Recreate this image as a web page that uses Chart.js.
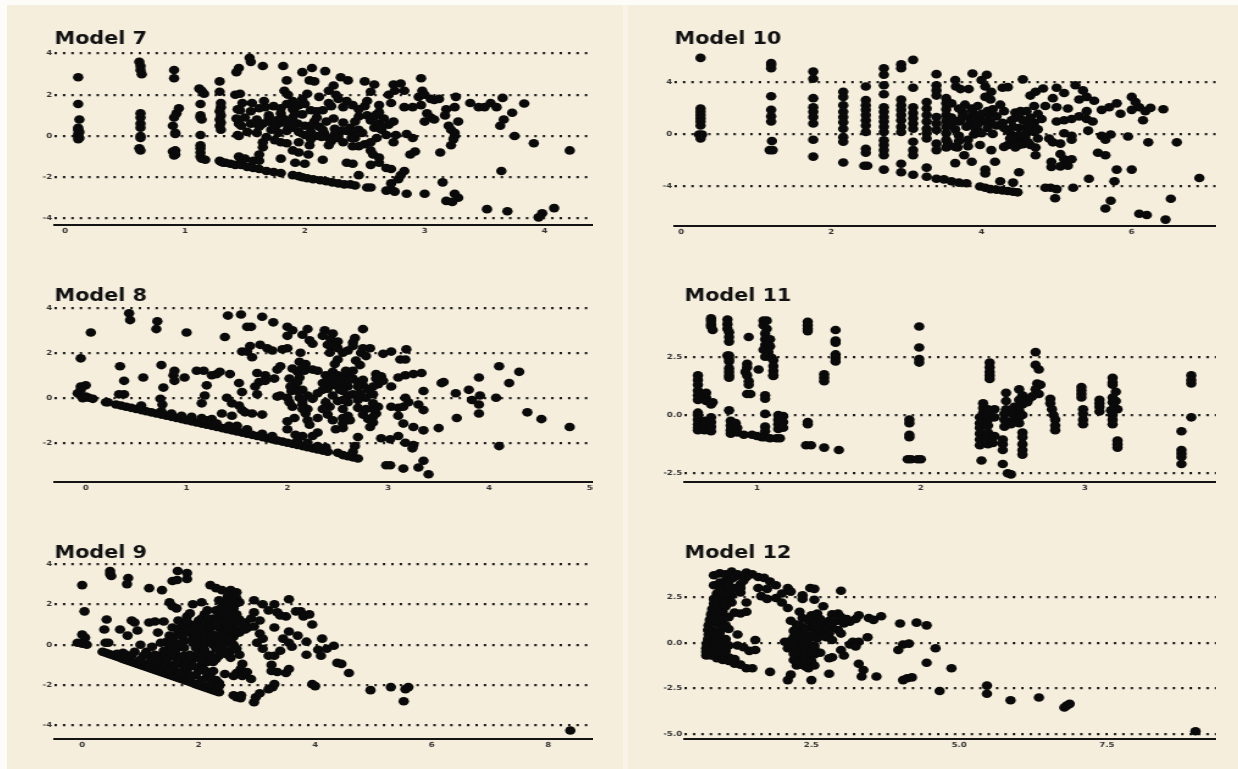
<!DOCTYPE html>
<html>
<head>
<meta charset="utf-8">
<title>Models 7-12</title>
<script src="https://cdn.jsdelivr.net/npm/chart.js@4"></script>
<style>
    html, body { margin: 0; width: 1238px; height: 769px; overflow: hidden; background: #fdfcf8; }
    .sheet { position: absolute; background: #f5eedd; }
    .gutter { position: absolute; left: 623px; top: 5px; width: 5px; height: 764px; background: #f8f3e6; }
    canvas { position: absolute; transform: scaleX(1.22); transform-origin: 0 0; filter: blur(0.45px); }
</style>
</head>
<body>
<div class="sheet" style="left:7px;top:5px;width:1231px;height:764px"></div>
<div class="gutter"></div>
<canvas id="chart7"></canvas>
<canvas id="chart8"></canvas>
<canvas id="chart9"></canvas>
<canvas id="chart10"></canvas>
<canvas id="chart11"></canvas>
<canvas id="chart12"></canvas>
<script>
// Points, [fitted, residual]
const model7 = [
[0.11,2.85],[0.11,1.55],[0.12,0.8],[0.11,0.4],[0.11,0.3],[0.12,0.2],[0.11,0.1],[0.11,0],[0.12,-0.1],[0.11,-0.15],
[0.62,3.6],[0.63,3.4],[0.63,3.2],[0.64,3.0],[0.63,1.1],[0.63,0.9],[0.63,0.6],[0.63,0.4],[0.63,0],[0.63,-0.1],[0.62,-0.6],[0.63,-0.7],
[0.91,3.2],[0.91,2.8],[0.95,1.35],[0.93,1.1],[0.91,0.9],[0.9,0.5],[0.92,0.15],[0.92,0.1],[0.9,-0.75],[0.92,-0.9],[0.91,-0.95],[0.92,-0.7],
[1.12,2.3],[1.14,2.2],[1.16,2.05],[1.13,1.55],[1.13,1.0],[1.13,0.9],[1.14,0.8],[1.13,0.05],[1.13,-0.45],[1.13,-0.6],[1.13,-0.8],[1.13,-1.0],[1.14,-1.1],[1.17,-1.15],
[1.29,2.65],[1.29,2.15],[1.3,1.6],[1.3,1.4],[1.29,1.2],[1.3,1.0],[1.29,0.8],[1.3,0.65],[1.29,0.5],[1.3,0.3],[1.29,-1.2],[1.32,-1.3],
[1.42,2.0],[1.46,2.05],[1.44,1.3],[1.46,1.25],[1.43,0.85],[1.45,0.6],[1.47,0.5],[1.44,0.05],[1.45,0],[1.45,-1.0],[1.47,-1.25],
[1.54,3.8],[1.55,3.6],[1.45,3.3],[1.43,3.1],[1.65,3.4],[1.82,3.4],[1.85,2.7],[1.98,3.1],[2.06,3.3],[2.17,3.15],[2.04,2.7],[2.08,2.65],[2.3,2.85],[2.36,2.7],[2.5,2.65],[2.58,2.5],[2.74,2.5],[2.8,2.55],[2.97,2.8],[2.24,2.45],[2.2,2.2],[2.26,2.0],[2.28,1.8],[2.35,1.7],[2.4,1.5],
[1.83,2.2],[1.86,2.0],[1.9,1.7],[1.95,1.5],[1.9,1.3],[1.98,1.8],[2.02,2.05],[2.12,1.9],[2.05,1.25],[2.1,1.2],[2.15,1.25],
[2.55,2.15],[2.52,1.7],[2.62,1.5],[2.7,2.0],[2.75,2.2],[2.83,2.2],[2.72,1.6],
[1.56,1.6],[1.66,1.7],[1.67,1.4],[1.74,1.45],[1.8,1.1],[1.7,1.0],[1.6,0.8],[1.55,0.6],[1.52,0.2],[1.6,0.15],[1.65,0.6],[1.72,0.3],[1.78,0.6],[1.82,0.85],[1.86,0.5],[1.9,0.9],[1.94,0.6],[1.98,1.05],[2.0,0.5],[2.05,0.2],[2.0,0.05],[2.08,0.7],[2.12,0.45],[2.16,0.15],[2.18,0.7],[2.2,-0.1],[2.24,0.85],[2.25,0.35],[2.28,0.1],[2.22,-0.25],[2.32,0.65],[2.3,0.25],
[2.42,0.7],[2.45,0.3],[2.42,-0.1],[2.45,0.95],[2.52,1.0],[2.55,0.75],[2.6,1.05],[2.62,0.6],[2.64,0.3],[2.7,0.55],[2.74,0.7],[2.68,0.05],[2.48,0.15],[2.58,0.4],
[1.75,0.5],[1.85,0.25],[1.7,0.7],[1.95,0.2],[2.1,0.0],[2.14,-0.05],[1.62,0.45],[1.78,0.15],[1.88,0.75],[2.38,0.4],
[1.7,0.85],[1.75,0.75],[1.8,0.9],[1.85,0.65],[1.9,0.4],[1.75,0.4],[1.6,0.6],[1.92,1.1],[2.05,0.5],[2.15,0.3],[2.25,0.1],[2.35,0.25],[2.1,0.9],[2.4,0.05],[1.92,1.4],[1.85,1.55],[1.8,1.35],[1.62,1.35],[1.55,1.2],[1.48,1.6],[1.5,0.9],[2.22,1.45],[2.58,0.95],[2.66,0.85],[2.62,0.4],[2.6,-0.1],[2.5,-0.4],[2.45,-0.5],
[1.75,-0.2],[1.95,-0.3],[2.05,-0.15],[2.28,-0.1],[2.32,-0.3],[2.0,1.55],[2.2,1.6],[2.32,1.4],[2.5,1.45],[2.45,1.3],[2.62,1.15],
[2.83,1.4],[2.9,1.4],[2.97,1.5],[2.95,1.9],[2.98,2.2],[3.0,2.0],[3.05,1.8],[3.08,1.75],[3.12,1.8],[3.02,1.1],[3.05,0.9],[3.0,0.7],[3.08,0.8],[3.18,1.3],[3.17,1.0],[3.26,1.9],[3.25,1.4],[3.28,0.7],[3.2,0.5],[3.22,0.3],[3.25,0.15],[3.25,0],[3.24,-0.15],[3.22,-0.45],[3.13,-0.8],
[3.38,1.6],[3.45,1.4],[3.5,1.4],[3.55,1.6],[3.6,1.4],[3.65,1.85],[3.66,0.8],[3.63,0.5],[3.75,0],[3.73,1.13],[3.83,1.58],[3.91,-0.35],[4.21,-0.7],[3.64,-1.7],[3.15,-2.25],[3.25,-2.8],[3.28,-3],[3.18,-3.15],[3.23,-3.2],[3.52,-3.55],[3.69,-3.65],[4.08,-3.5],[3.98,-3.75],[3.95,-3.95],[3.0,-2.8],[2.85,-2.8],
[1.3,-1.25],[1.34,-1.3],[1.38,-1.35],[1.42,-1.4],[1.47,-1.4],[1.52,-1.5],[1.57,-1.55],[1.62,-1.6],[1.68,-1.7],[1.74,-1.75],[1.8,-1.8],[1.9,-1.9],[1.95,-1.95],[1.98,-2.0],[2.02,-2.05],[2.07,-2.1],[2.13,-2.15],[2.18,-2.2],[2.23,-2.25],[2.28,-2.3],[2.33,-2.35],[2.38,-2.35],[2.42,-2.4],[2.52,-2.5],[2.55,-2.5],
[2.68,-2.65],[2.72,-2.6],[2.75,-2.7],[2.72,-2.3],[2.78,-2.1],[2.8,-1.9],[2.83,-1.7],[2.88,-0.9],[2.92,-0.75],[2.9,-0.1],[2.85,0.1],[2.76,0.05],[2.74,-0.3],
[1.5,-1.1],[1.57,-1.2],[1.62,-1.2],[1.62,-0.9],[1.65,-0.55],[1.65,-0.3],[1.68,-0.05],[1.8,-0.3],[1.85,-0.35],[1.9,-0.7],[1.95,-0.8],[2.03,-0.9],[2.04,-0.45],[1.8,-1.1],[1.92,-1.3],[2.0,-1.35],[2.15,-1.15],[2.35,-1.3],[2.4,-1.35],[2.45,-1.9],[2.55,-1.4],[2.62,-1.3],[2.68,-1.55],[2.72,-1.6],[2.55,-0.7],[2.57,-0.9],[2.62,-1.05],[2.55,-0.3],[2.4,-0.5],[2.39,-0.1],[2.2,-0.45]
];

const model8 = [
[-0.05,0.5],[0,0.55],[-0.05,0.35],[-0.08,0.2],[-0.05,0.1],[0,0.05],[0.03,0],[0.07,-0.05],[-0.03,-0.02],[0.2,-0.2],[0.22,-0.2],
[0.3,-0.3],[0.35,-0.35],[0.4,-0.4],[0.45,-0.45],[0.5,-0.5],[0.55,-0.55],[0.6,-0.6],[0.65,-0.65],[0.7,-0.7],[0.75,-0.75],[0.8,-0.8],[0.85,-0.85],[0.9,-0.9],[0.95,-0.95],[1,-1],[1.05,-1.05],[1.1,-1.1],[1.15,-1.15],[1.2,-1.2],[1.25,-1.25],[1.3,-1.3],[1.35,-1.35],[1.4,-1.4],[1.45,-1.45],[1.5,-1.5],[1.55,-1.55],[1.6,-1.6],[1.65,-1.65],[1.7,-1.7],[1.75,-1.75],[1.8,-1.8],[1.85,-1.85],[1.9,-1.9],[1.95,-1.95],[2,-2],[2.05,-2.05],[2.1,-2.1],[2.15,-2.15],[2.2,-2.2],[2.25,-2.25],[2.3,-2.3],[2.35,-2.35],[2.4,-2.4],[2.5,-2.45],[2.55,-2.55],[2.6,-2.6],[2.65,-2.65],[2.7,-2.7],
[1.25,-0.95],[1.15,-0.9],[1.05,-0.85],[0.95,-0.8],[1.2,-1.0],[1.3,-1.15],[1.42,-1.25],[1.5,-1.25],[1.6,-1.4],[1.75,-1.6],[1.85,-1.7],[2.1,-1.9],[2.2,-2.0],[2.3,-2.15],[2.38,-2.2],[0.55,-0.35],[0.75,-0.6],[0.85,-0.7],
[0.43,3.75],[0.44,3.45],[0.71,3.4],[0.7,3.05],[0.05,2.9],[1.0,2.9],[1.38,2.7],[1.41,3.65],[1.54,3.7],[1.6,3.15],[1.64,3.15],[1.75,3.6],[1.86,3.35],[2.0,3.15],[2.05,3.0],[2.0,2.75],[2.15,2.8],[2.2,3.05],[2.37,3.0],[2.45,2.85],[2.35,2.75],[2.43,2.6],[2.5,2.5],[2.25,2.4],[2.22,2.55],[2.67,2.65],[2.75,3.05],[2.65,2.45],[2.65,2.3],[2.82,2.2],[2.75,2.2],[2.6,2.1],[2.55,2.0],[2.73,2.0],[2.78,1.85],[2.68,1.65],[2.72,1.45],[2.95,1.95],[3.03,2.05],[3.18,2.15],[3.12,1.7],[3.17,1.7],[2.45,2.3],[2.42,2.0],[2.5,1.7],[2.47,1.5],
[1.55,2.05],[1.63,2.3],[1.6,2.05],[1.65,1.8],[1.73,2.35],[1.8,2.2],[1.85,2.1],[1.95,2.15],[2.0,2.2],[2.13,2.0],
[-0.05,1.75],[0.34,1.4],[0.38,0.75],[0.57,0.9],[0.38,0.15],[0.33,0.15],[0.75,1.45],[0.77,0.45],[0.74,-0.05],[0.76,-0.3],[0.88,1.2],[0.87,1.0],[0.88,0.75],[0.98,0.9],[1.1,1.2],[1.17,1.2],[1.25,1.0],[1.3,1.05],[1.33,1.15],[1.43,1.05],[1.2,0.55],[1.18,0.1],[1.15,-0.25],[1.4,0],[1.45,-0.25],[1.52,-0.35],[1.55,-0.55],[1.35,-0.7],[1.45,-0.8],[1.58,-0.65],[1.65,-0.7],[1.75,-0.75],[1.52,0.65],[1.55,0.25],[1.7,1.1],[1.72,0.7],[1.68,0.5],[1.7,0.15],[1.78,1.0],[1.78,0.75],[1.87,0.85],[1.9,0.05],[1.93,0.1],[1.9,1.25],[1.93,1.4],
[2.05,1.3],[2.1,1.15],[2.12,1.6],[2.18,1.5],[2.25,1.25],[2.3,1.2],[2.02,0.85],[2.08,0.6],[2.04,0.3],[2.02,-0.2],[2.05,-0.4],[2.12,0.9],[2.15,0.35],[2.12,0],[2.15,-0.3],[2.2,-0.5],[2.2,0.1],[2.25,-0.05],[2.18,-0.7],[2.2,-1.0],[2.0,-1.05],[2.0,-1.4],[2.07,-0.9],[2.22,-1.2],[2.3,-1.55],[2.25,-1.7],[2.15,-1.7],[2.08,-1.65],
[2.38,1.0],[2.42,0.8],[2.4,0.6],[2.45,1.15],[2.5,1.0],[2.55,0.9],[2.48,0.55],[2.52,0.35],[2.55,0.65],[2.6,1.1],[2.65,1.2],[2.65,0.85],[2.6,0.5],[2.7,0.7],[2.75,0.55],[2.8,0.35],[2.72,0.2],[2.78,0],[2.85,0.15],[2.85,-0.25],[2.9,0.6],[2.88,1.05],[2.93,0.95],[2.95,0.75],[3.03,0.5],[2.9,-0.4],[2.88,-0.7],[2.78,-0.5],[2.75,-0.75],[2.6,-0.2],[2.55,-0.5],[2.6,0.1],[2.45,0.1],[2.5,-0.15],[2.42,-0.4],[2.38,-0.2],[2.4,-0.75],[2.45,-1.0],[2.55,-0.9],[2.62,-1.0],[2.48,-1.4],[2.55,-1.35],[2.7,-1.75],[2.67,-2.15],[2.65,-2.4],[2.82,-1.3],
[2.4,0.4],[2.5,0.8],[2.45,0.9],[2.35,0.65],[2.62,0.8],[2.7,0.5],[2.75,0.8],[2.58,1.2],[2.55,0.3],[2.65,0.15],[2.7,-0.1],[2.55,-0.1],[2.85,0.5],[2.88,0.85],[2.85,-0.5],[2.85,-0.85],[2.1,0.7],[2.1,0.3],[2.15,-0.15],[2.15,-0.5],[2.03,0.5],[2.0,0.0],[2.17,1.2],[2.15,1.35],[2.5,2.2],[2.4,2.35],
[2.3,0.2],[2.35,-0.5],[2.3,-0.9],[2.6,-0.8],[2.7,-0.45],[2.8,-0.95],[2.85,-1.1],[2.55,-1.15],[2.35,0.35],
[3.03,-0.4],[3.1,-0.45],[3.15,-0.4],[3.2,-0.2],[3.17,0],[3.1,-0.8],[3.15,-1.15],[3.1,0.9],[3.17,1.0],[3.25,1.05],[3.33,1.1],[3.35,0.3],[3.3,-0.3],[3.35,-0.55],[3.25,-1.3],[3.35,-1.45],[3.5,-1.35],[3.55,0.7],[3.53,0.65],[3.67,0.2],[3.8,0.35],[3.83,-0.1],[3.9,0.9],[3.91,0.1],[3.9,-0.3],[3.9,-0.7],[3.68,-0.9],[4.07,0],[4.1,1.4],[4.3,1.15],[4.2,0.65],[4.38,-0.65],[4.52,-0.95],[4.8,-1.3],[4.1,-2.15],
[2.93,-1.8],[3.02,-1.85],[3.1,-1.7],[3.17,-2.0],[3.25,-2.1],[3.24,-2.25],[2.98,-3],[3.02,-3.0],[3.15,-3.15],[3.35,-2.8],[3.3,-3.1],[3.4,-3.4]
];

const model9 = [
[0.0,2.95],[0.04,1.65],[0.48,3.65],[0.48,3.5],[0.5,3.4],[0.79,3.3],[0.77,3.0],[1.15,2.8],[1.37,2.7],[1.55,3.15],[1.63,3.2],[1.64,3.65],[1.8,3.55],[1.8,3.25],
[0,0.5],[0.05,0.35],[0.03,0.15],[-0.08,0.1],[0,0.05],[0.08,0],[0.42,1.25],[0.38,0.75],[0.4,0.1],[0.45,0.1],[0.65,0.75],[0.78,0.45],[0.85,1.2],[0.9,1.1],[0.95,0.7],[1.0,0],[1.15,1.1],[1.25,1.15],[1.3,0.6],[1.4,1.15],[1.35,0.1],
[1.5,2.1],[1.55,1.9],[1.62,1.8],[1.9,2.0],[2.05,2.1],[2.15,1.7],[2.2,2.95],[2.3,2.8],[2.4,2.7],[2.55,2.7],[2.6,2.5],[2.65,2.3],[2.5,2.4],[2.45,2.1],[2.6,2.1],[2.7,2.1],[2.95,2.2],[3.1,2.0],[3.3,2.0],[3.55,2.25],[3.2,1.7],[3.35,1.6],[3.5,1.4],[3.4,1.45],[3.67,1.65],[3.75,1.65],[3.8,1.4],[3.9,1.5],[3.95,1.0],
[1.65,1.2],[1.55,0.85],[1.5,0.45],[1.45,0.15],[1.65,0.6],[1.7,0.9],[1.8,1.4],[1.85,1.55],[1.85,1.0],[1.8,0.6],[1.75,0.2],[1.9,0.3],[1.95,0.7],[2.0,1.2],[2.0,0.9],[2.05,0.4],[2.1,1.5],[2.15,1.05],[2.15,0.65],[2.2,0.2],[2.25,1.3],[2.3,1.7],[2.35,0.85],[2.35,0.45],[2.4,1.9],[2.4,1.35],[2.45,0.9],[2.5,0.1],[2.5,0.55],[2.5,1.6],[2.55,1.15],[2.6,0.4],[2.6,0.8],[2.6,1.8],[2.7,1.25],[2.75,0.75],[2.8,1.1],[2.85,0.85],[2.9,1.3],[2.95,1.6],[2.95,0.9],
[1.55,0.3],[1.6,0.1],[1.65,-0.1],[1.7,0.45],[1.75,0.75],[1.8,1.15],[1.85,0.75],[1.9,0.1],[1.95,0.45],[1.95,1.0],[2.0,0.6],[2.0,0.05],[2.05,1.3],[2.05,0.8],[2.1,0.45],[2.1,0.05],[2.15,1.3],[2.2,0.85],[2.25,0.5],[2.25,0.0],[2.3,1.1],[2.3,0.25],[2.35,1.55],[2.35,0.1],[2.4,0.6],[2.4,1.6],[2.45,1.15],[2.45,0.35],[2.5,0.8],[2.5,1.9],[2.55,2.2],[2.55,1.4],[2.55,0.25],[2.6,1.05],[2.6,0.6],[2.6,0.0],[2.65,1.5],[2.65,2.05],[2.7,0.6],[2.75,1.0],[2.8,0.75],[2.45,2.0],[2.35,2.2],[2.55,1.9],[2.65,2.6],[2.4,1.8],
[1.5,-0.5],[1.6,-0.6],[1.7,-0.95],[1.75,-0.55],[1.8,-0.85],[1.9,-0.7],[2.0,-0.65],[2.05,-1.0],[2.1,-0.55],[2.15,-0.85],[2.3,-0.7],[2.4,-0.15],[2.55,-0.3],[2.5,-0.5],[1.2,-0.65],[1.35,-0.55],[1.05,-0.55],[0.9,-0.35],[0.7,-0.4],[1.45,-1.0],[1.35,-1.05],[1.25,-1.0],[1.15,-0.9],[1.6,-1.3],[1.8,-1.3],[2.0,-1.3],[2.15,-1.5],[2.3,-1.75],[2.35,-1.9],[2.2,-1.45],
[1.5,-0.1],[1.6,-0.3],[1.7,-0.6],[1.75,-0.15],[1.85,-0.5],[1.95,-0.15],[2.0,-0.4],[2.05,-0.8],[2.1,-0.25],[2.2,-0.5],[2.25,-0.85],[2.3,-0.2],[2.35,-0.55],[2.45,-0.3],[2.55,-0.65],[2.65,-0.2],[2.7,-0.5],[2.75,-0.95],[2.72,-1.2],[2.65,-1.4],[2.6,-1.55],[2.75,-1.55],[2.83,-1.35],[2.9,-1.7],[2.45,-1.45],
[1.1,-0.35],[1.2,-0.1],[1.25,-0.5],[1.4,-0.3],[1.3,-0.8],[1.45,-0.75],[1.6,-0.95],[1.75,-1.1],[1.9,-1.05],[2.1,-1.25],[2.25,-1.3],[1.55,-1.15],[1.95,-1.5],[2.2,-1.7],
[0.35,-0.35],[0.4,-0.4],[0.45,-0.45],[0.5,-0.5],[0.55,-0.55],[0.6,-0.6],[0.65,-0.65],[0.7,-0.7],[0.75,-0.75],[0.8,-0.8],[0.85,-0.85],[0.9,-0.9],[0.95,-0.95],[1,-1],[1.05,-1.05],[1.1,-1.1],[1.15,-1.15],[1.2,-1.2],[1.25,-1.25],[1.3,-1.3],[1.35,-1.35],[1.4,-1.4],[1.45,-1.45],[1.5,-1.5],[1.55,-1.55],[1.6,-1.6],[1.65,-1.65],[1.7,-1.7],[1.75,-1.75],[1.8,-1.8],[1.85,-1.85],[1.9,-1.9],[1.95,-1.95],[2,-2],[2.05,-2.05],[2.1,-2.1],[2.15,-2.15],[2.2,-2.2],[2.25,-2.25],[2.3,-2.3],[2.35,-2.35],
[0.6,-0.45],[0.75,-0.5],[0.85,-0.55],[1.0,-0.75],[1.2,-0.85],[1.5,-1.25],[1.7,-1.4],[1.85,-1.55],[2.05,-1.75],[2.2,-1.95],[2.35,-2.05],
[2.6,-2.5],[2.65,-2.6],[2.72,-2.65],[2.73,-2.5],[2.95,-2.85],[2.98,-2.6],[3.05,-2.4],[3.2,-2.2],[3.27,-2.1],[3.3,-1.95],
[3.05,1.2],[3.05,0.55],[3.1,0.3],[3.0,0.1],[3.1,-0.2],[3.2,-0.55],[3.3,-0.55],[3.25,-1.0],[3.35,-1.35],[3.25,-1.3],[3.5,-1.4],[3.55,-1.2],[3.4,-0.3],[3.3,0.85],[3.45,0.3],[3.55,0.1],[3.6,-0.1],[3.55,0.65],[3.7,0.45],[3.85,0.15],[3.85,-0.5],[4.05,-0.25],[4.1,-0.55],[4.12,0.3],[4.2,-0.2],[4.32,-0.05],[4.38,-0.9],[4.45,-0.95],[4.58,-1.4],
[3.95,-1.95],[4.0,-2.05],[4.95,-2.25],[5.3,-2.1],[5.55,-2.2],[5.6,-2.1],[5.52,-2.8],[8.38,-4.25]
];

const model10 = [
[0.26,5.9],[0.26,2.0],[0.26,1.75],[0.26,1.5],[0.26,1.25],[0.26,1],[0.26,0.7],[0.24,0],[0.28,0],[0.26,-0.3],
[1.2,5.5],[1.2,5.35],[1.2,5.1],[1.2,2.95],[1.2,1.9],[1.2,1.4],[1.2,1],[1.21,-0.5],[1.18,-1.2],[1.22,-1.2],
[1.76,4.85],[1.76,4.3],[1.76,2.8],[1.76,2.1],[1.76,1.75],[1.76,1.35],[1.76,0.85],[1.76,-0.4],[1.76,-1.7],
[2.16,3.3],[2.16,2.9],[2.16,2.25],[2.16,1.75],[2.16,1.35],[2.16,0.95],[2.16,0.45],[2.16,-0.2],[2.16,-0.55],[2.16,-2.15],
[2.46,3.7],[2.46,2.65],[2.46,2.25],[2.46,1.9],[2.46,1.5],[2.46,1.1],[2.46,0.7],[2.46,0.2],[2.46,-1.1],[2.46,-1.4],[2.44,-2.4],[2.48,-2.4],
[2.7,5.1],[2.7,4.6],[2.7,3.8],[2.7,3.1],[2.7,2.1],[2.7,1.75],[2.7,1.35],[2.7,1],[2.7,0.6],[2.7,0.2],[2.7,-0.45],[2.7,-0.8],[2.7,-1.2],[2.7,-1.6],[2.7,-2.7],
[2.93,5.4],[2.93,5.1],[2.93,2.7],[2.93,2.25],[2.93,1.9],[2.93,1.5],[2.93,1.1],[2.93,0.6],[2.93,0.2],[2.93,-2.25],[2.93,-2.9],
[3.09,5.75],[3.09,3.6],[3.09,2.1],[3.09,1.65],[3.09,1.25],[3.09,0.85],[3.09,0.45],[3.09,-0.55],[3.09,-1.2],[3.09,-1.6],[3.09,-3.1],
[3.27,2.5],[3.27,2],[3.27,1.5],[3.27,1],[3.27,0.45],[3.27,0.1],[3.27,-0.3],[3.27,-2.55],[3.27,-3.25],
[3.4,4.65],[3.4,3.8],[3.4,3.4],[3.4,3],[3.4,1.35],[3.4,0.85],[3.4,0.35],[3.4,-0.7],[3.4,-1.2],[3.4,-3.4],
[3.53,2.8],[3.53,2.4],[3.53,1.95],[3.53,1.5],[3.53,1.05],[3.53,0.6],[3.53,0.1],[3.53,-0.4],[3.53,-1.0],[3.5,-3.45],[3.6,-3.6],[3.7,-3.7],[3.8,-3.75],
[3.65,4.2],[3.66,3.7],[3.72,3.5],[3.83,3.5],[3.65,0.4],[3.7,-0.1],[3.68,-1.0],[3.72,1.1],[3.75,1.7],[3.78,2.3],[3.8,0.6],[3.82,-0.4],[3.85,1.3],[3.87,2.0],[3.77,-1.6],[3.65,-2.2],[3.87,-2.1],
[3.6,1.3],[3.7,1.0],[3.6,0.9],[3.75,1.4],[3.85,0.9],[3.9,1.5],[3.92,1.15],[3.95,0.3],[3.9,0.0],[4.0,1.05],[4.1,1.5],[4.12,0.95],[4.2,0.7],[4.08,1.8],[4.15,1.95],[3.88,1.75],[3.7,2.0],[3.6,2.4],[3.55,-0.9],[3.7,-0.5],[3.82,-0.9],[3.65,-0.95],[3.92,0.45],[4.3,0.5],[4.4,1.1],[4.45,1.3],[4.5,0.5],[4.6,0.1],[4.5,-0.05],[4.55,-0.5],[4.45,-0.6],[4.35,-0.8],[4.62,-0.6],[4.4,0.0],[4.7,0.9],[4.65,1.05],[4.8,1.2],[4.7,0.6],[4.75,0.4],[4.52,1.8],[4.45,1.7],[3.55,-0.6],[4.55,-0.75],
[3.88,4.7],[4.0,4.2],[4.07,4.6],[4.05,3.7],[4.13,3.3],[4.05,2.9],[4.12,2.7],[3.95,2.2],[4.0,1.6],[4.05,1.0],[3.95,0.8],[4.08,0.5],[4.0,0.1],[4.15,0.05],[3.98,-0.8],[4.13,-1.2],[4.18,-2.1],[4.05,-2.7],[4.05,-3.0],
[3.98,-4],[4.05,-4.1],[4.12,-4.2],[4.2,-4.25],[4.28,-4.3],[4.35,-4.35],[4.42,-4.4],[4.48,-4.45],[4.25,-3.6],[4.42,-3.7],[4.5,-2.9],[4.3,-0.95],[4.5,-0.8],
[4.28,3.6],[4.35,3.65],[4.25,2.3],[4.3,1.8],[4.2,1.4],[4.28,0.9],[4.35,0.3],[4.42,0.6],[4.38,-0.3],[4.45,-1.0],[4.55,4.25],[4.65,3.0],[4.72,3.3],[4.82,3.55],
[4.5,1.5],[4.55,1.1],[4.6,1.8],[4.65,1.3],[4.7,2.2],[4.75,1.6],[4.6,0.6],[4.7,0.2],[4.75,-0.3],[4.65,-0.8],[4.72,-1.0],[4.72,-1.6],[4.58,-0.2],
[4.85,2.2],[4.95,2.8],[5.0,3.6],[5.1,3.2],[5.0,2.1],[5.15,2.0],[5.0,1.0],[5.1,1.1],[5.2,1.2],[5.1,0.1],[5.2,-0.1],[4.95,-0.6],[4.9,-0.3],[5.2,-0.4],[5.05,-0.7],[5.05,-1.5],[5.1,-1.9],[4.93,-2.1],[4.93,-2.5],[5.05,-2.45],[5.15,-2.4],[5.2,-1.9],[4.92,-4.1],[5.0,-4.2],[4.98,-4.9],[5.22,-4.1],[4.85,-4.1],
[5.25,3.8],[5.35,3.4],[5.3,2.7],[5.4,2.9],[5.5,2.6],[5.4,1.8],[5.3,1.4],[5.4,1.2],[5.42,0.3],[5.48,1.0],[5.6,1.9],[5.7,2.1],[5.8,2.4],[5.6,-0.1],[5.65,-0.4],[5.72,0],[5.55,-1.4],[5.65,-1.6],[5.8,-2.7],[5.43,-3.4],[5.77,-3.6],
[5.85,1.6],[5.95,-0.15],[6.0,2.9],[6.05,2.5],[6.1,2.1],[6.0,1.9],[6.18,1.8],[6.25,2.05],[6.42,1.95],[6.15,1.1],[6.22,-0.6],[6.6,-0.6],[6.0,-2.7],[6.9,-3.35],[6.52,-4.95],[6.1,-6.1],[6.2,-6.2],[6.45,-6.55],[5.72,-5.1],[5.65,-5.7]
];

const model11 = [
[0.72,4.15],[0.72,4.05],[0.72,3.9],[0.72,3.8],[0.73,3.65],[0.82,4.1],[0.82,3.9],[0.82,3.7],[0.83,3.55],[0.83,3.35],[0.83,3.15],[0.82,2.55],[0.95,3.35],
[1.04,4.05],[1.06,4.05],[1.04,3.85],[1.06,3.7],[1.05,3.5],[1.05,3.25],[1.08,3.25],[1.05,3.0],[1.08,2.95],[1.04,2.8],[1.07,2.7],[1.05,2.5],[1.09,2.45],[1.1,2.35],[1.1,2.1],[1.1,1.9],[1.1,1.7],[1.1,1.68],
[0.83,2.55],[0.83,2.4],[0.83,2.3],[0.83,2.0],[0.83,1.85],[0.83,1.7],[0.83,1.6],[0.94,2.2],[0.94,2.05],[0.93,1.85],[0.94,1.7],[0.95,1.45],[0.95,1.3],[0.94,0.9],[0.96,0.9],[1.01,1.95],[1.05,0.85],[1.05,0.7],[1.05,0.05],
[0.64,1.7],[0.64,1.5],[0.64,1.3],[0.64,1.05],[0.64,0.85],[0.64,0.65],[0.69,0.95],[0.69,0.75],[0.69,0.6],[0.73,0.55],[0.72,0.45],[0.83,0.2],
[0.64,0.1],[0.64,0],[0.64,-0.2],[0.64,-0.4],[0.64,-0.55],[0.64,-0.65],[0.68,-0.25],[0.68,-0.45],[0.68,-0.65],[0.72,-0.1],[0.72,-0.3],[0.72,-0.5],[0.72,-0.7],
[0.84,-0.25],[0.84,-0.45],[0.84,-0.65],[0.84,-0.8],[0.87,-0.35],[0.88,-0.55],[0.88,-0.75],[0.92,-0.85],[0.97,-0.85],[1.0,-0.9],[1.03,-0.95],[1.05,-0.5],[1.05,-0.7],[1.05,-0.95],[1.08,-1.0],[1.12,-1.0],[1.14,-1.0],
[1.13,0.0],[1.13,-0.2],[1.13,-0.4],[1.13,-0.6],[1.16,-0.05],[1.16,-0.3],[1.16,-0.55],
[1.31,4.0],[1.31,3.85],[1.31,3.7],[1.31,3.6],[1.31,-0.3],[1.31,-0.4],[1.3,-1.3],[1.33,-1.3],[1.41,-1.4],[1.5,-1.5],
[1.48,3.65],[1.48,3.2],[1.48,3.1],[1.48,2.6],[1.48,2.45],[1.48,2.3],[1.41,1.75],[1.41,1.6],[1.41,1.45],
[1.99,3.8],[1.99,2.9],[1.99,2.4],[1.99,2.25],[1.93,-0.2],[1.93,-0.35],[1.93,-0.85],[1.93,-0.95],[1.92,-1.9],[1.94,-1.9],[1.98,-1.9],[2.0,-1.9],
[2.42,2.25],[2.42,2.05],[2.42,1.85],[2.42,1.7],[2.42,1.55],
[2.38,0.5],[2.38,0.3],[2.38,0.1],[2.36,-0.1],[2.36,-0.35],[2.36,-0.55],[2.36,-0.8],[2.36,-1.05],[2.36,-1.3],[2.37,-1.95],[2.41,0.25],[2.41,0.05],[2.41,-0.2],[2.41,-0.45],[2.41,-0.75],[2.41,-1.0],[2.41,-1.25],[2.45,0.25],[2.45,-0.1],[2.45,-0.9],[2.44,-1.2],
[2.52,0.95],[2.52,0.6],[2.52,0.25],[2.51,0.05],[2.51,-0.2],[2.51,-0.5],[2.5,-1.05],[2.5,-1.25],[2.5,-1.5],[2.5,-2.1],[2.55,-2.55],[2.53,-2.5],[2.57,0.35],[2.56,0.05],[2.56,-0.25],[2.55,-0.4],
[2.6,1.1],[2.62,0.85],[2.6,0.65],[2.62,0.45],[2.6,0.2],[2.62,0],[2.6,-0.1],[2.6,-0.35],[2.62,-0.75],[2.62,-0.95],[2.62,-1.25],[2.62,-1.5],[2.62,-1.7],
[2.7,2.7],[2.7,2.15],[2.72,1.95],[2.71,1.35],[2.73,1.3],[2.7,1.1],[2.72,0.9],[2.68,0.8],[2.66,0.7],[2.65,0.55],
[2.79,0.7],[2.79,0.5],[2.8,0.25],[2.81,0],[2.82,-0.2],[2.82,-0.45],[2.82,-0.65],
[2.98,1.2],[2.98,1.05],[2.98,0.9],[2.98,0.75],[2.99,0.25],[2.99,0.05],[2.99,-0.2],[2.99,-0.4],
[3.09,0.65],[3.09,0.5],[3.09,0.35],[3.09,0.15],
[3.17,1.6],[3.17,1.4],[3.17,1.3],[3.19,1],[3.17,0.75],[3.17,0.55],[3.19,0.6],[3.18,0.35],[3.2,0.25],[3.16,0.2],[3.17,0],[3.17,-0.2],[3.17,-0.4],[3.2,-1.1],[3.2,-1.25],[3.2,-1.4],
[3.65,1.7],[3.65,1.5],[3.65,1.35],[3.65,-0.1],[3.59,-0.7],[3.59,-1.5],[3.59,-1.65],[3.59,-1.8],[3.59,-2.1]
];

const model12 = [
[0.85,3.7],[0.95,3.8],[1.05,3.75],[1.15,3.9],[1.25,3.75],[1.4,3.85],[1.5,3.75],[1.6,3.6],[1.7,3.55],[1.8,3.35],[1.9,3.15],[0.85,3.15],[0.95,3.3],[1.05,3.4],[1.15,3.5],[1.3,3.2],[1.0,3.0],[1.15,2.95],[1.3,2.75],[1.15,2.6],[1.0,2.5],[0.9,2.7],[0.85,2.4],[1.05,2.3],[1.1,2.75],[1.4,2.2],[0.85,2.15],[0.95,2.05],[1.0,2.2],[0.82,1.85],[0.9,1.75],[1.0,1.7],[0.8,1.55],[0.92,1.4],[1.0,1.3],[0.78,1.25],[0.88,1.1],[0.96,1.0],[1.05,0.95],[1.1,0.75],[0.76,0.95],[0.75,0.7],[0.85,0.65],[0.76,0.45],[0.85,0.3],
[1.1,1.4],[1.2,1.65],[1.3,1.6],[1.4,1.7],[1.6,3.0],[1.65,2.55],[1.75,2.4],[1.9,2.45],[1.75,2.95],
[0.78,0.05],[0.85,-0.3],[0.95,-0.45],[1.05,-0.45],[0.75,-0.1],[0.85,0.5],[0.95,0.2],[1.0,0.85],[0.95,0.55],[1.05,0.2],[0.9,1.9],[0.9,2.3],[1.05,2.0],[1.15,2.2],[0.95,2.85],[1.1,3.15],[1.2,3.0],[1.4,3.6],[1.2,3.6],[1.35,3.4],[1.3,3.0],[1.2,-0.9],[1.1,-0.8],[0.95,-0.7],
[0.75,0.2],[0.85,0.1],[0.95,0.0],[1.05,0.0],[0.73,-0.05],[0.82,-0.15],[0.92,-0.25],[1.0,-0.2],[1.1,-0.15],[1.25,-0.15],[1.35,-0.25],[1.25,0.45],[1.55,0.15],[1.45,-0.45],[1.55,-0.4],[0.72,-0.3],[0.72,-0.5],[0.72,-0.7],[0.8,-0.45],[0.8,-0.7],[0.9,-0.55],[0.9,-0.85],[1.0,-0.6],[1.0,-0.95],[1.1,-1.0],[1.2,-1.15],[1.3,-1.2],[1.4,-1.4],[1.5,-1.4],[1.8,-1.6],
[2.0,2.7],[2.1,3.0],[2.15,2.8],[2.0,2.2],[2.1,1.9],[2.35,2.4],[2.35,2.6],[2.48,3.0],[2.55,2.95],[2.55,2.35],[2.7,2.0],[3.0,2.85],
[2.3,1.7],[2.35,1.35],[2.15,1.2],[2.25,1.0],[2.35,0.85],[2.45,1.2],[2.5,1.5],[2.6,1.6],[2.6,1.25],[2.7,1.05],[2.5,0.85],[2.3,0.6],[2.2,0.65],[2.4,0.45],[2.55,0.55],[2.65,0.7],[2.75,0.9],[2.8,1.2],[2.85,1.55],[2.95,1.6],[2.95,1.2],[3.05,1.05],[3.15,1.15],[3.25,1.3],[3.3,1.5],[2.85,0.85],[2.95,0.7],[3.0,0.5],
[2.1,-0.3],[2.2,-0.1],[2.25,0.4],[2.3,0.95],[2.3,-0.3],[2.3,-0.8],[2.35,0.45],[2.35,-0.7],[2.4,0.1],[2.4,0.75],[2.45,-0.65],[2.45,-0.9],[2.5,0.3],[2.55,0.9],[2.55,-0.3],[2.55,-0.65],[2.65,1.3],[2.7,0.4],[2.75,0.7],[2.8,0.5],[2.2,0.3],[2.35,-1.1],[2.3,-1.2],[2.25,-1.25],[2.4,-1.05],[2.85,1.1],[3.0,1.4],[3.1,1.3],
[2.05,0.05],[2.15,0.1],[2.25,0.2],[2.35,0.15],[2.45,0.2],[2.6,0.25],[2.75,0.3],[2.85,0.15],[2.15,-0.25],[2.25,-0.2],[2.35,-0.1],[2.45,-0.2],[2.55,-0.15],[2.2,-0.6],[2.3,-0.5],[2.4,-0.45],[2.5,-0.6],[2.65,-0.55],[2.2,-0.95],[2.3,-1.05],[2.4,-0.85],[2.5,-1.0],[2.4,-1.3],[2.45,-1.4],[2.55,-1.25],
[2.85,-0.8],[2.8,-0.85],[3.0,-0.4],[3.05,-0.7],[3.15,-0.1],[3.2,0.05],[3.3,0.05],[3.25,-0.2],[3.45,0.3],[3.3,-1.15],[3.38,-1.5],[3.35,-1.85],[3.6,-1.85],[2.15,-1.75],[2.1,-2.05],[2.5,-2.05],[2.8,-1.7],[3.47,1.35],[3.55,1.25],[3.68,1.45],[4.0,1.05],[4.28,1.1],[4.45,0.95],[4.05,-0.1],[4.15,-0.05],[3.97,-0.4],[4.6,-0.3],[4.45,-1.1],[4.87,-1.4],[4.05,-2.05],[4.12,-1.95],[4.2,-1.9],[4.67,-2.65],[5.47,-2.35],[5.47,-2.8],[5.87,-3.15],[6.35,-3.0],[6.78,-3.55],[6.82,-3.45],[6.87,-3.35],[9.0,-4.85]
];

// Tick values per panel
const xTicks7 = [0, 1, 2, 3, 4], yTicks7 = [-4, -2, 0, 2, 4];
const xTicks8 = [0, 1, 2, 3, 4, 5], yTicks8 = [-2, 0, 2, 4];
const xTicks9 = [0, 2, 4, 6, 8], yTicks9 = [-4, -2, 0, 2, 4];
const xTicks10 = [0, 2, 4, 6], yTicks10 = [-4, 0, 4];
const xTicks11 = [1, 2, 3], yTicks11 = [-2.5, 0, 2.5];
const xTicks12 = [2.5, 5, 7.5], yTicks12 = [-5, -2.5, 0, 2.5];

// Layout measured on the page: plot edges, axis line, and where data 0 sits with px per unit
const stretch = 1.22;
const panels = [
    { id: 'chart7',  title: 'Model 7',  pts: model7,  xt: xTicks7,  yt: yTicks7,  xDec: 0, yDec: 0, left: 54.5,  right: 593,  titleY: 39,  axisY: 225, x0: 65,    xu: 120,   y0: 136,   yu: 20.6 },
    { id: 'chart8',  title: 'Model 8',  pts: model8,  xt: xTicks8,  yt: yTicks8,  xDec: 0, yDec: 0, left: 54.5,  right: 593,  titleY: 296, axisY: 482, x0: 85.8,  xu: 100.9, y0: 397.7, yu: 22.5 },
    { id: 'chart9',  title: 'Model 9',  pts: model9,  xt: xTicks9,  yt: yTicks9,  xDec: 0, yDec: 0, left: 54.5,  right: 593,  titleY: 553, axisY: 739, x0: 82.2,  xu: 58.3,  y0: 644.7, yu: 20.2 },
    { id: 'chart10', title: 'Model 10', pts: model10, xt: xTicks10, yt: yTicks10, xDec: 0, yDec: 0, left: 674.5, right: 1216, titleY: 39,  axisY: 225.5, x0: 681, xu: 75.1,  y0: 134.3, yu: 12.95 },
    { id: 'chart11', title: 'Model 11', pts: model11, xt: xTicks11, yt: yTicks11, xDec: 0, yDec: 1, left: 684.4, right: 1216, titleY: 296, axisY: 482, x0: 593,   xu: 163.8, y0: 415,   yu: 23.3 },
    { id: 'chart12', title: 'Model 12', pts: model12, xt: xTicks12, yt: yTicks12, xDec: 1, yDec: 1, left: 684.4, right: 1216, titleY: 553, axisY: 739, x0: 663.6, xu: 59.06, y0: 642.7, yu: 18.25 }
];

const yAxisW = 34, xAxisH = 20, titleH = 22;

panels.forEach(function(p) {
    const canvas = document.getElementById(p.id);
    const top = p.titleY - 10;
    const areaTop = top + titleH;
    const plotW = (p.right - p.left) / stretch;
    canvas.width = Math.round(yAxisW + plotW);
    canvas.height = Math.round(p.axisY - areaTop + titleH + xAxisH);
    canvas.style.left = (p.left - yAxisW * stretch) + 'px';
    canvas.style.top = top + 'px';

    new Chart(canvas, {
        type: 'scatter',
        data: {
            datasets: [{
                data: p.pts.map(d => ({ x: d[0], y: d[1] })),
                backgroundColor: '#0a0a0a',
                borderWidth: 0,
                pointRadius: 4.3,
                clip: false
            }]
        },
        options: {
            responsive: false,
            animation: false,
            // autoPadding would eat the plot width to make room for the point radius
            layout: { padding: 0, autoPadding: false },
            plugins: {
                legend: { display: false },
                tooltip: { enabled: false },
                title: {
                    display: true,
                    text: p.title,
                    align: 'start',
                    fullSize: false,
                    color: '#111',
                    font: { family: '"DejaVu Sans"', size: 17, weight: 'bold', lineHeight: 1.2 },
                    padding: { top: 0, bottom: titleH - 20.4 }
                }
            },
            scales: {
                x: {
                    min: (p.left - p.x0) / p.xu,
                    max: (p.right - p.x0) / p.xu,
                    afterBuildTicks: s => { s.ticks = p.xt.map(v => ({ value: v })); },
                    afterFit: s => { s.height = xAxisH; s.paddingLeft = 0; s.paddingRight = 0; },
                    grid: { display: false, drawTicks: false },
                    border: { display: true, color: '#141414', width: 2 },
                    ticks: {
                        autoSkip: false, maxRotation: 0, padding: 2, color: '#333',
                        font: { family: '"DejaVu Sans"', size: 7, weight: 'bold' },
                        callback: v => Number(v).toFixed(p.xDec)
                    }
                },
                y: {
                    min: (p.y0 - p.axisY) / p.yu,
                    max: (p.y0 - areaTop) / p.yu,
                    afterBuildTicks: s => { s.ticks = p.yt.map(v => ({ value: v })); },
                    afterFit: s => { s.width = yAxisW; s.paddingTop = 0; s.paddingBottom = 0; },
                    grid: { color: '#1a1a1a', lineWidth: 2.2, drawTicks: false },
                    border: { display: false, dash: [2, 4.9] },
                    ticks: {
                        autoSkip: false, padding: 2, color: '#333',
                        font: { family: '"DejaVu Sans"', size: 7, weight: 'bold' },
                        callback: v => Number(v).toFixed(p.yDec)
                    }
                }
            }
        }
    });
});
</script>
</body>
</html>
